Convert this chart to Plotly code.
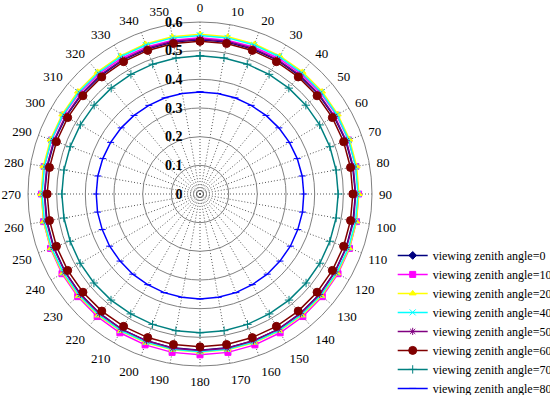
import plotly.graph_objects as go

azimuth = list(range(0, 360, 10))
angle_labels = [str(a) for a in azimuth]
radial_ticks = [0, 0.1, 0.2, 0.3, 0.4, 0.5, 0.6]
radial_labels = ["0", "0.1", "0.2", "0.3", "0.4", "0.5", "0.6"]

vza0 = [0.538, 0.538, 0.538, 0.539, 0.539, 0.540, 0.540, 0.541, 0.541, 0.542, 0.542, 0.543,
        0.543, 0.544, 0.544, 0.545, 0.545, 0.545, 0.545, 0.545, 0.545, 0.545, 0.544, 0.544,
        0.543, 0.543, 0.542, 0.542, 0.541, 0.541, 0.540, 0.540, 0.539, 0.539, 0.538, 0.538]
vza10 = [0.545, 0.545, 0.546, 0.547, 0.548, 0.549, 0.550, 0.551, 0.552, 0.553, 0.554, 0.555,
         0.556, 0.557, 0.558, 0.559, 0.560, 0.561, 0.561, 0.561, 0.560, 0.559, 0.558, 0.557,
         0.556, 0.555, 0.554, 0.553, 0.552, 0.551, 0.550, 0.549, 0.548, 0.547, 0.546, 0.545]
vza20 = [0.557, 0.557, 0.557, 0.556, 0.556, 0.556, 0.555, 0.555, 0.555, 0.554, 0.554, 0.554,
         0.553, 0.553, 0.553, 0.552, 0.552, 0.552, 0.552, 0.552, 0.552, 0.552, 0.553, 0.553,
         0.553, 0.554, 0.554, 0.554, 0.555, 0.555, 0.555, 0.556, 0.556, 0.556, 0.557, 0.557]
vza40 = [0.553, 0.553, 0.553, 0.553, 0.552, 0.552, 0.552, 0.552, 0.551, 0.551, 0.551, 0.551,
         0.550, 0.550, 0.550, 0.550, 0.550, 0.550, 0.550, 0.550, 0.550, 0.550, 0.550, 0.550,
         0.550, 0.551, 0.551, 0.551, 0.551, 0.552, 0.552, 0.552, 0.552, 0.553, 0.553, 0.553]
vza50 = [0.541, 0.541, 0.541, 0.541, 0.542, 0.542, 0.542, 0.543, 0.543, 0.543, 0.544, 0.544,
         0.544, 0.545, 0.545, 0.545, 0.545, 0.546, 0.546, 0.546, 0.545, 0.545, 0.545, 0.545,
         0.544, 0.544, 0.544, 0.543, 0.543, 0.543, 0.542, 0.542, 0.542, 0.541, 0.541, 0.541]
vza60 = [0.533, 0.533, 0.533, 0.533, 0.533, 0.533, 0.533, 0.533, 0.533, 0.533, 0.533, 0.533,
         0.533, 0.533, 0.533, 0.533, 0.533, 0.533, 0.533, 0.533, 0.533, 0.533, 0.533, 0.533,
         0.533, 0.533, 0.533, 0.533, 0.533, 0.533, 0.533, 0.533, 0.533, 0.533, 0.533, 0.533]
vza70 = [0.482, 0.482, 0.482, 0.482, 0.482, 0.482, 0.482, 0.482, 0.482, 0.482, 0.482, 0.482,
         0.483, 0.483, 0.483, 0.483, 0.484, 0.484, 0.484, 0.484, 0.484, 0.483, 0.483, 0.483,
         0.483, 0.482, 0.482, 0.482, 0.482, 0.482, 0.482, 0.482, 0.482, 0.482, 0.482, 0.482]
vza80 = [0.356, 0.356, 0.357, 0.357, 0.358, 0.359, 0.360, 0.361, 0.362, 0.362, 0.363, 0.363,
         0.364, 0.364, 0.365, 0.365, 0.366, 0.366, 0.366, 0.366, 0.366, 0.365, 0.365, 0.364,
         0.364, 0.363, 0.363, 0.362, 0.362, 0.361, 0.360, 0.359, 0.358, 0.357, 0.357, 0.356]

series = [
    ("viewing zenith angle=0", vza0, "#00007f", "diamond", 6),
    ("viewing zenith angle=10", vza10, "#ff00ff", "square", 6),
    ("viewing zenith angle=20", vza20, "#ffff00", "triangle-up", 6),
    ("viewing zenith angle=40", vza40, "#00ffff", "x-thin", 6),
    ("viewing zenith angle=50", vza50, "#800080", "asterisk", 6),
    ("viewing zenith angle=60", vza60, "#800000", "circle", 8),
    ("viewing zenith angle=70", vza70, "#008080", "cross-thin", 6),
    ("viewing zenith angle=80", vza80, "#0000ff", "line-ew", 5),
]

fig = go.Figure()
for name, vals, color, sym, size in series:
    fig.add_trace(go.Scatterpolar(
        r=vals + vals[:1],
        theta=azimuth + azimuth[:1],
        mode="lines+markers",
        name=name,
        line=dict(color=color, width=1.5),
        marker=dict(symbol=sym, size=size, color=color,
                    line=dict(color=color, width=1)),
    ))

fig.update_layout(
    width=550, height=395,
    margin=dict(l=0, r=0, t=0, b=0, autoexpand=False),
    paper_bgcolor="white",
    font=dict(family="Liberation Serif", color="black"),
    polar=dict(
        domain=dict(x=[0.0509, 0.6764], y=[0.0734, 0.9443]),
        bgcolor="white",
        angularaxis=dict(
            direction="clockwise", rotation=90,
            tickmode="array", tickvals=azimuth, ticktext=angle_labels,
            ticks="outside", ticklen=4, tickcolor="rgba(0,0,0,0)",
            showline=True, linecolor="#808080", linewidth=1,
            gridcolor="#555555", griddash="1px,2px", gridwidth=1,
            tickfont=dict(family="Liberation Serif", size=13, color="black"),
        ),
        radialaxis=dict(
            range=[0, 0.6], angle=90, side="counterclockwise",
            tickmode="array", tickvals=radial_ticks, ticktext=radial_labels,
            tickangle=90, ticks="outside", ticklen=12, tickcolor="rgba(0,0,0,0)",
            showline=False,
            gridcolor="#808080", gridwidth=1,
            tickfont=dict(family="Liberation Serif", size=14, color="black", weight="bold"),
        ),
    ),
    legend=dict(
        x=0.714, y=-0.02, xanchor="left", yanchor="bottom",
        font=dict(family="Liberation Serif", size=12, color="black"),
        bgcolor="rgba(0,0,0,0)", tracegroupgap=0, itemwidth=30,
    ),
)

fig.write_html("out.html", config={"displayModeBar": False},
               post_script="document.body.style.margin='0';")
